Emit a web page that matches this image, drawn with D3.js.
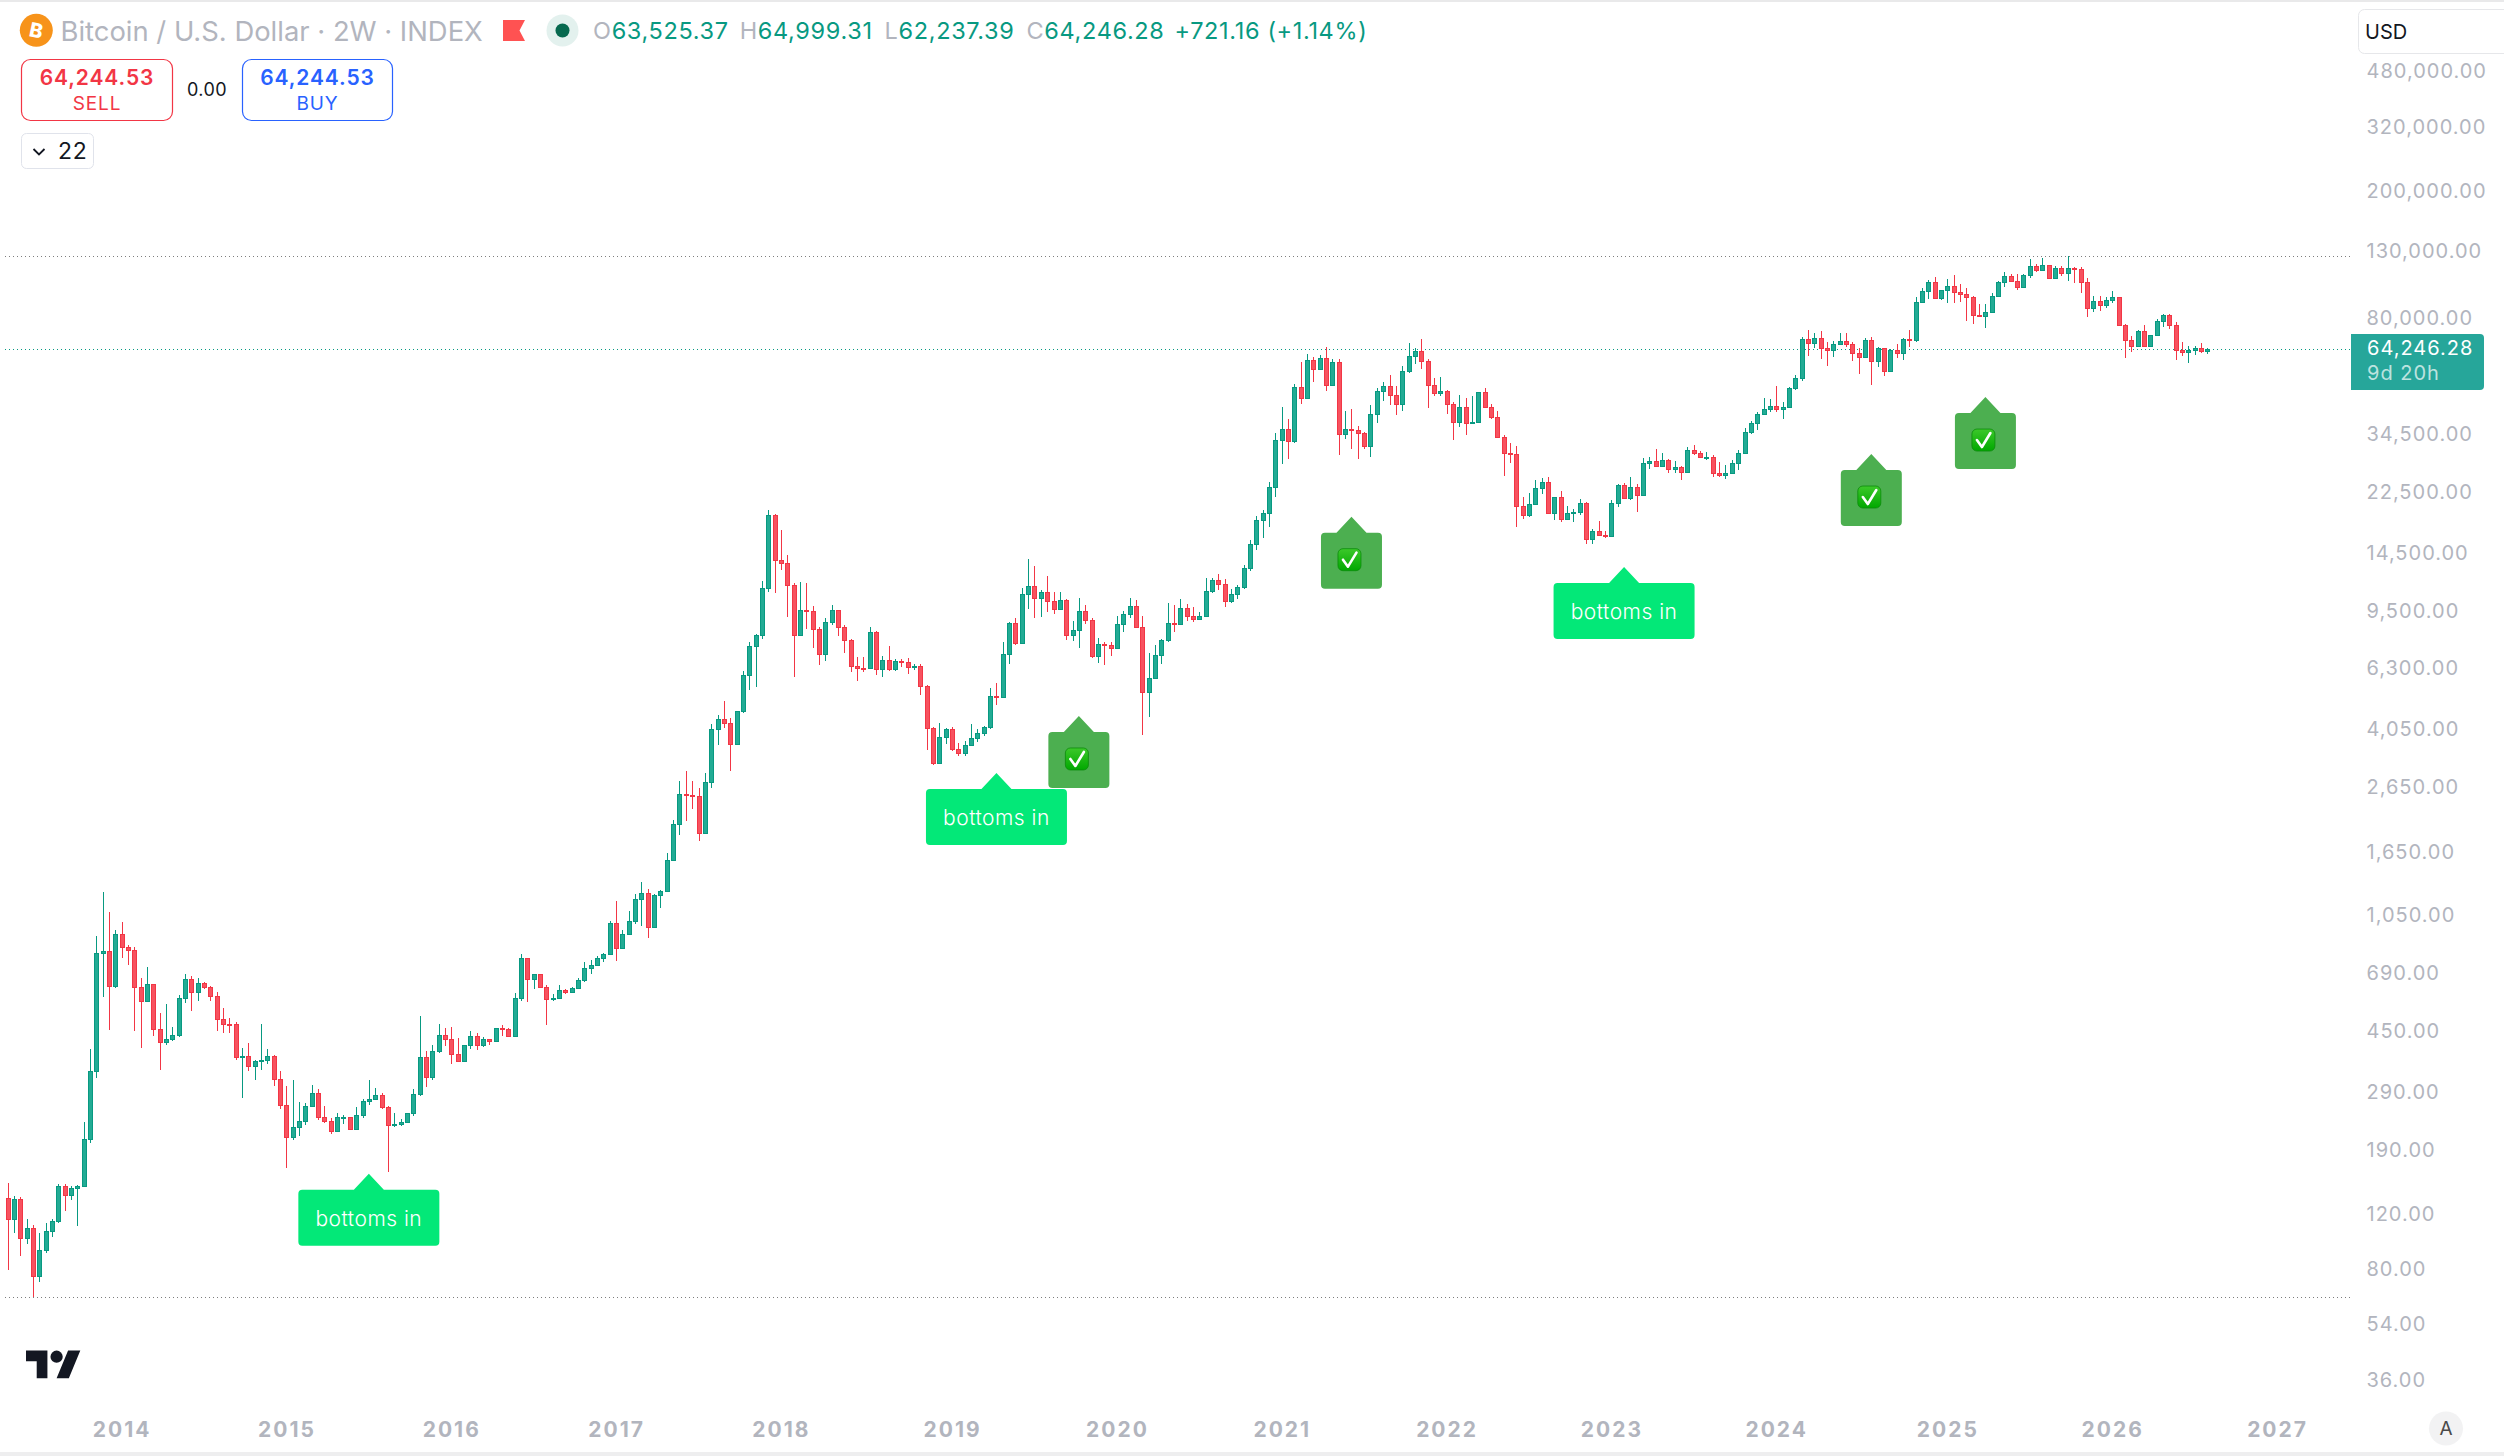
<!DOCTYPE html>
<html>
<head>
<meta charset="utf-8">
<script src="https://cdn.jsdelivr.net/npm/d3@7"></script>
<style>
html,body{margin:0;padding:0;background:#fff;}
svg{display:block;font-family:Inter,"Noto Sans",sans-serif;}
</style>
</head>
<body>
<svg id="chart" width="2504" height="1456"></svg>
<script>
// 2-week BTC/USD bars. Each bar opens at the previous close.
const firstOpen = 135.6;
const closes = [116.5,134.6,101.4,109.1,77.4,93.0,106.7,114.8,147.8,139.3,145.8,148.7,209,341,802,814,634,920,841,820,630,569,641,464,422,432,442,579,664,607,645,630,590,499,481,479,379,382,355,366,371,380,323,266,212,228,238,264,291,245,238,221,244,244,224,248,274,278,286,262,231,233,235,251,288,377,328,394,445,431,385,368,411,439,413,432,425,468,464,441,579,773,664,688,630,577,579,614,
605,622,660,720,
735,773,798,1003,835,920,1011,1187,1240,973,1222,1258,1574,2044,2543,2528,2514,1924,2773,4077,4380,4277,3671,4642,6026,7441,8063,11336,19252,13957,13665,11634,8099,9662,9638,8459,7056,8858,9662,8550,7771,6466,6354,6340,8232,6312,6719,6312,6670,6630,6411,6473,5593,4124,3202,3845,4077,3540,3440,3650,3820,3980,4137,5178,5165,7022,8793,7639,10850,11503,10590,11010,10380,9780,10405,
8099,8377,9590,9031,6955,7550,7533,7369,8734,9386,
9955,8580,5353,5899,6968,7775,8794,8773,9811,9295,
9095,9249,11085,12014,11729,10362,10856,11420,13110,15600,
18570,19536,23590,33192,35961,33115,48750,45215,59273,55842,
60147,49478,58462,34840,35961,35870,35100,31923,40071,47400,
49100,46195,43305,54781,61020,63305,58837,49478,46880,47400,
43305,38000,42178,37730,37820,47028,42374,39410,34076,30340,
29990,20650,19347,20864,23425,24460,19631,21930,18800,19536,
19726,21008,16251,17144,16735,16623,21008,23946,21883,23590,
22358,28083,28476,27600,28687,26875,27268,26422,30865,30340,
29321,29400,26241,25880,26241,28083,30197,35153,37530,40071,
41540,42471,41737,42178,48400,52036,69060,67390,69540,65000,
63933,66600,68100,66914,62700,60896,68580,58837,64689,55030,
63774,62700,69060,68900,
90590,98080,104680,93220,98790,101720,97370,95960,93930,82400,81990,84010,94340,104680,109320,105400,101000,110230,117570,114220,118480,107770,115900,112030,115900,115380,104930,86850,91200,88870,91900,93930,76610,68900,65800,73350,65800,71280,78900,82400,76610,63770,63200,63920,64850,63525.37,64246.28];
const highs = [151.2,137.9,136.6,116.5,111.5,105.2,113.1,116.5,150.1,150.1,147.8,149,235.5,400,909,1252,1082,950,1006,849,837,670,727,642,520,556,470,593,690,680,670,651,633,606,540,501,487,403,418,370,480,400,383,341,307,320,273,270,309,300,265,243,252,248,244,263,279,320,302,292,265,252,241,251,300,509,395,412,480,467,470,434,411,455,450,436,432,468,476,468,601,798,773,690,690,638,597,638,
619,627,671,753,
764,787,806,1014,1172,950,1090,1230,1345,1276,1230,1267,1657,2110,2793,3005,2793,2656,2961,4224,4509,4992,4413,4642,6210,7658,8117,11926,20010,19394,17312,14404,11751,11842,11751,9955,8571,9121,10020,9662,8665,7827,6871,6871,8571,8291,6921,7441,6767,6767,6820,6545,6545,5607,4137,4256,4107,4137,3695,3731,4224,4077,4165,5487,5690,7690,8858,9121,11336,13980,13295,11170,12360,11010,11040,
10465,8922,10545,10020,9120,7883,7703,7703,9249,9590,
10545,10396,9249,7073,7495,7835,10167,10020,10465,10098,
9880,9524,12189,12189,12540,12101,11250,11590,13402,16064,
19120,19963,24460,34923,42178,38650,49820,58462,61950,60584,
61500,65165,59710,59710,40954,41540,36700,35200,42766,48400,
50538,53159,49100,56778,67073,64689,69060,59710,52036,52410,
47713,43745,46000,45019,45656,47028,48400,43108,40954,34420,
32461,31770,21930,22595,24822,25184,25365,21930,22903,20556,
20105,21622,21172,17405,18440,17144,21480,24158,24294,25365,
24158,29110,29321,31073,30197,28899,28476,27480,31538,32000,
30640,30420,29744,28295,27697,28687,30865,36190,38100,40663,
45019,44678,49100,43745,48750,53159,70100,73750,72160,73190,
67550,68100,72160,72160,67550,64689,69536,70100,65165,64689,
64370,66600,69536,73750,
93930,100500,106230,108550,98790,106740,110230,103445,100000,94640,89280,89280,96670,105400,112550,111000,111000,111000,123760,119250,124540,118480,117570,118000,126470,116700,116700,107520,94640,94640,93930,98080,93930,77170,70730,73910,76610,71280,80050,83000,83000,78280,67710,65800,65800,67230,64999.31];
const lows = [80.3,105.2,89.5,97.1,66.0,73.7,91.4,102.7,113.7,123.2,133.8,111.2,146.9,203,325,586,459,625,777,739,456,404,569,441,345,413,425,437,560,529,567,618,569,456,449,449,370,280,342,320,345,359,307,260,169.4,207,213,230,264,240,234,216,221,233,223,224,243,267,277,260,164.5,228,229.5,234,247,285,304,320,389,410,358,364,368,402,397,407,413,425,440,437,441,569,565,621,630,478,568,577,
596,605,622,653,
690,735,755,794,760,829,922,994,978,898,964,1116,1254,1571,1897,2100,2290,1817,1924,2669,3645,4124,3012,3671,4598,5433,5553,7865,11065,10990,12978,9232,5970,8099,8459,7369,6504,6710,8714,8046,7107,6185,5795,6156,6354,6032,5970,6220,6220,6411,6083,6265,5240,3518,3150,3202,3671,3490,3366,3366,3640,3722,3880,4096,4880,5126,6545,7530,7585,9780,9165,9232,9525,9400,9780,
7810,7757,7369,8773,6855,6612,6514,6955,7369,8272,
9163,8514,3920,4467,5877,6556,7703,8272,8713,8966,
8900,9095,9232,10980,11220,9930,10213,10523,11310,12890,
15003,16381,17740,22040,28023,29050,32615,43305,45215,50788,
55280,47590,49350,29910,33576,31230,29050,31230,29460,37750,
44137,43010,39973,41149,54220,57901,55717,42031,45900,45900,
40267,33345,36653,34576,37450,37730,42374,38847,34076,25667,
28234,17740,18800,19074,20816,22524,19631,18660,18392,18660,
18392,19347,15674,15674,16735,16381,16623,20508,21741,21575,
19773,22215,26875,27480,27268,26120,26120,24943,26422,29910,
29110,28778,25486,25486,25124,26241,26815,30124,34840,35870,
39973,40855,40855,38847,42031,47911,51162,61330,65000,60020,
57027,60896,66437,65483,59149,53845,60896,49664,56653,53034,
55030,60459,59585,65483,
67550,89690,92310,92530,91900,89880,90010,90300,78900,77170,81830,74940,83810,93660,101000,104930,98790,101000,107770,112550,113450,107770,107770,109320,105160,103910,96470,81230,84420,84825,86750,89880,76050,60270,63020,65800,65325,65960,70730,75500,74460,59460,61210,58150,61640,62540,62237.39];
const opens = [firstOpen, ...closes.slice(0, -1)];

const priceTicks = [480000,320000,200000,130000,80000,34500,22500,14500,9500,6300,4050,2650,1650,1050,690,450,290,190,120,80,54,36];
const yearBars = [18,44,70,96,122,149,175,201,227,253,279,306,332,358];
const yearLabels = ["2014","2015","2016","2017","2018","2019","2020","2021","2022","2023","2024","2025","2026","2027"];

const lastPrice = 64246.28;
const allTimeHigh = 126150;
const allTimeLow = 66.2;

const bottomsLabel = "bottoms in";
const bottomsBars = [57,156,255];
const bottomsPrices = [162,2968,13235];
const checkBars = [169,212,294,312];
const checkPrices = [4490,19070,30050,45440];

const C = {up:"#089981", upFill:"#22ab94", down:"#f23645", downFill:"#f7525f", muted:"#b2b5be", ink:"#131722", blue:"#2962ff"};

const svg = d3.select("#chart");
const x = d3.scaleLinear().domain([0,347]).range([7.5,2207.3]);
const y = d3.scaleLog().domain([480000,36]).range([72.2,1381]);

// frame bands
svg.append("rect").attr("x",0).attr("y",0).attr("width",2504).attr("height",2).attr("fill","#e9e9ea");
svg.append("rect").attr("x",0).attr("y",1452).attr("width",2504).attr("height",4).attr("fill","#eeeeef");

// dotted price lines
function dotted(v,color){
  svg.append("line").attr("x1",5).attr("x2",2350).attr("y1",Math.round(y(v))+.5).attr("y2",Math.round(y(v))+.5)
    .attr("stroke",color).attr("stroke-width",1).attr("stroke-dasharray","1 3");
}
dotted(allTimeHigh,"#7d7d7d");
dotted(allTimeLow,"#7d7d7d");
dotted(lastPrice,C.up);

// candles
const bars = d3.range(closes.length).map(i=>({i,o:opens[i],h:highs[i],l:lows[i],c:closes[i]}));
const candles = svg.append("g").attr("shape-rendering","crispEdges");
const g = candles.selectAll("g").data(bars).join("g")
  .attr("transform",d=>`translate(${Math.round(x(d.i))},0)`);
g.append("rect")
  .attr("x",0).attr("width",1)
  .attr("y",d=>y(d.h)).attr("height",d=>Math.max(1,y(d.l)-y(d.h)))
  .attr("fill",d=>d.c>=d.o?C.up:C.down);
g.append("rect")
  .attr("x",-1.5).attr("width",4)
  .attr("y",d=>Math.round(y(Math.max(d.o,d.c)))+.5)
  .attr("height",d=>Math.max(0.5,Math.round(y(Math.min(d.o,d.c)))-Math.round(y(Math.max(d.o,d.c)))))
  .attr("fill",d=>d.c>=d.o?C.upFill:C.downFill)
  .attr("stroke",d=>d.c>=d.o?C.up:C.down)
  .attr("stroke-width",1);

// callout shape: apex at (0,0)
function callout(w,h){
  const hw=w/2, top=16, r=4, a=15;
  return `M0,0 L${a},${top} L${hw-r},${top} Q${hw},${top} ${hw},${top+r} L${hw},${top+h-r} Q${hw},${top+h} ${hw-r},${top+h} L${-hw+r},${top+h} Q${-hw},${top+h} ${-hw},${top+h-r} L${-hw},${top+r} Q${-hw},${top} ${-hw+r},${top} L${-a},${top} Z`;
}
const bottoms = svg.append("g").selectAll("g").data(bottomsBars).join("g")
  .attr("transform",(d,i)=>`translate(${x(d)},${y(bottomsPrices[i])})`);
bottoms.append("path").attr("d",callout(141,56)).attr("fill","#03e878");
bottoms.append("text").text(bottomsLabel).attr("x",0).attr("y",45).attr("dy",".35em").attr("text-anchor","middle")
  .attr("fill","#fff").attr("font-size",21).attr("font-weight",300).attr("letter-spacing",.5);

const grad = svg.append("defs").append("linearGradient").attr("id","ck").attr("x1",0).attr("x2",0).attr("y1",0).attr("y2",1);
grad.append("stop").attr("offset","0").attr("stop-color","#3cc82a");
grad.append("stop").attr("offset","1").attr("stop-color","#00a800");
const checks = svg.append("g").selectAll("g").data(checkBars).join("g")
  .attr("transform",(d,i)=>`translate(${x(d)},${y(checkPrices[i])})`);
checks.append("path").attr("d",callout(61,56)).attr("fill","#4caf50");
checks.append("rect").attr("x",-13.5).attr("y",32).attr("width",23).attr("height",22).attr("rx",5)
  .attr("fill","url(#ck)").attr("stroke","#0b8a0b").attr("stroke-width",.8);
checks.append("path").attr("d","M-8.5,43 L-3.5,50 L5,36").attr("fill","none").attr("stroke","#fff").attr("stroke-width",2.6).attr("stroke-linecap","round").attr("stroke-linejoin","round");

// axes
const yAxis = svg.append("g").attr("transform","translate(2366.5,-1.4)")
  .call(d3.axisRight(y).tickValues(priceTicks).tickSize(0).tickPadding(0).tickFormat(d3.format(",.2f")));
yAxis.select(".domain").remove();
yAxis.selectAll("text").attr("fill",C.muted).attr("font-size",20).attr("letter-spacing",1).attr("font-family","Inter");

const xAxis = svg.append("g").attr("transform","translate(0,1422)")
  .call(d3.axisBottom(x).tickValues(yearBars).tickSize(0).tickPadding(0).tickFormat((d,i)=>yearLabels[i]));
xAxis.select(".domain").remove();
xAxis.selectAll("text").attr("fill",C.muted).attr("font-size",21).attr("font-weight",700).attr("letter-spacing",2).attr("font-family","Inter");

// last price tag
svg.append("path").attr("d","M2351,334 H2480 Q2484,334 2484,338 V386 Q2484,390 2480,390 H2351 Z").attr("fill","#26a69a");
svg.append("text").text(d3.format(",.2f")(lastPrice)).attr("x",2367).attr("y",348).attr("dy",".36em").attr("fill","#fff").attr("font-size",20).attr("letter-spacing",1);
svg.append("text").text("9d 20h").attr("x",2367).attr("y",373).attr("dy",".36em").attr("fill","#fff").attr("fill-opacity",.7).attr("font-size",20).attr("letter-spacing",1);

// currency box
svg.append("rect").attr("x",2358.5).attr("y",9.5).attr("width",160).attr("height",44).attr("rx",6).attr("fill","#fff").attr("stroke","#e6e7ea");
svg.append("text").text("USD").attr("x",2365).attr("y",31.5).attr("dy",".36em").attr("fill",C.ink).attr("font-size",20);

// auto button
svg.append("circle").attr("cx",2446).attr("cy",1428.5).attr("r",17).attr("fill","#f2f2f3");
svg.append("text").text("A").attr("x",2446).attr("y",1428.5).attr("dy",".36em").attr("text-anchor","middle").attr("fill","#4a4a4a").attr("font-size",19);

// TradingView mark
const logo = svg.append("g").attr("transform","translate(26,1344.5) scale(1.53)").attr("fill",C.ink);
logo.append("path").attr("d","M14 22H7V11H0V4h14v18zM28 22h-8l7.5-18h8L28 22z");
logo.append("circle").attr("cx",20).attr("cy",8).attr("r",4);

// header
svg.append("circle").attr("cx",36.3).attr("cy",30.3).attr("r",16.5).attr("fill","#f7931a");
svg.append("text").text("B").attr("x",0).attr("y",0).attr("text-anchor","middle").attr("dy",".36em")
  .attr("transform","translate(36.3,30.3) rotate(12)").attr("fill","#fff").attr("font-size",20).attr("font-weight",800);
svg.append("text").text("Bitcoin / U.S. Dollar · 2W · INDEX").attr("x",60.5).attr("y",31).attr("dy",".36em").attr("fill",C.muted).attr("font-size",27.4);
svg.append("path").attr("d","M503,20 H525 L519.5,30.5 L525,41 H503 Z").attr("fill","#ff5252");
svg.append("circle").attr("cx",562.5).attr("cy",30.5).attr("r",16).attr("fill","#e3f1ee");
svg.append("circle").attr("cx",562.5).attr("cy",30.5).attr("r",7).attr("fill","#07694f");
const ohlcParts = [["O",0,0],["63,525.37",1,0],["H",0,11],["64,999.31",1,0],["L",0,12],["62,237.39",1,0],["C",0,12],["64,246.28",1,0],["+721.16 (+1.14%)",1,10]];
const ohlc = svg.append("text").attr("x",593).attr("y",31).attr("dy",".36em").attr("font-size",23.5).attr("letter-spacing",.65);
ohlc.selectAll("tspan").data(ohlcParts).join("tspan").text(d=>d[0]).attr("dx",d=>d[2]).attr("fill",d=>d[1]?C.up:C.muted);

function tradeBox(x0,w,color,price,label){
  svg.append("rect").attr("x",x0).attr("y",59.5).attr("width",w).attr("height",61).attr("rx",9).attr("fill","#fff").attr("stroke",color).attr("stroke-width",1.2);
  svg.append("text").text(price).attr("x",x0+w/2).attr("y",77.7).attr("dy",".36em").attr("text-anchor","middle").attr("fill",color).attr("font-size",21).attr("font-weight",600).attr("letter-spacing",.9);
  svg.append("text").text(label).attr("x",x0+w/2).attr("y",103.5).attr("dy",".36em").attr("text-anchor","middle").attr("fill",color).attr("font-size",19).attr("letter-spacing",.9);
}
tradeBox(21.5,151,C.down,"64,244.53","SELL");
tradeBox(242.5,150,C.blue,"64,244.53","BUY");
svg.append("text").text("0.00").attr("x",207).attr("y",89.7).attr("dy",".36em").attr("text-anchor","middle").attr("fill",C.ink).attr("font-size",18).attr("letter-spacing",.4);
svg.append("rect").attr("x",21.5).attr("y",133.5).attr("width",72).attr("height",35).attr("rx",5).attr("fill","#fff").attr("stroke","#e0e3eb");
svg.append("path").attr("d","M33.5,149 L39,154.5 L44.5,149").attr("fill","none").attr("stroke",C.ink).attr("stroke-width",1.8);
svg.append("text").text("22").attr("x",58).attr("y",151).attr("dy",".36em").attr("fill",C.ink).attr("font-size",23).attr("letter-spacing",.8);
</script>
</body>
</html>
